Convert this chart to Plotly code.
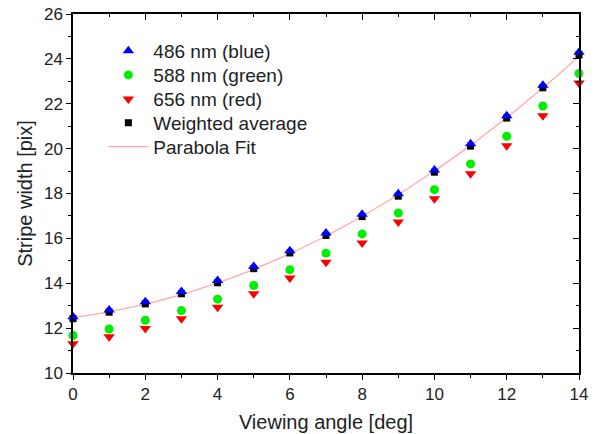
import numpy as np
import plotly.graph_objects as go

angle = list(range(0, 15))
blue_486 = [12.51, 12.81, 13.18, 13.63, 14.12, 14.75, 15.45, 16.24, 17.08, 17.99, 19.05, 20.22, 21.47, 22.83, 24.30]
green_588 = [11.67, 11.96, 12.35, 12.78, 13.29, 13.90, 14.60, 15.34, 16.20, 17.13, 18.17, 19.32, 20.55, 21.90, 23.35]
red_656 = [11.30, 11.62, 11.98, 12.42, 12.93, 13.53, 14.23, 14.94, 15.79, 16.73, 17.77, 18.88, 20.13, 21.47, 22.93]
weighted = [12.42, 12.71, 13.08, 13.53, 14.02, 14.65, 15.35, 16.13, 16.97, 17.88, 18.95, 20.11, 21.36, 22.71, 24.18]

x_ticks = [0, 2, 4, 6, 8, 10, 12, 14]
y_ticks = [10, 12, 14, 16, 18, 20, 22, 24, 26]

coef = np.polyfit(angle, weighted, 2)
xf = np.linspace(0, 14, 141)
yf = np.polyval(coef, xf)

FONT = "Liberation Sans, Arial, sans-serif"

fig = go.Figure()
fig.add_trace(go.Scatter(x=xf, y=yf, mode="lines", name="Parabola Fit", legend="legend5",
                         line=dict(color="#ffaaaa", width=1.3), cliponaxis=False))
fig.add_trace(go.Scatter(x=angle, y=weighted, mode="markers", name="Weighted average", legend="legend4",
                         marker=dict(symbol="square", color="black", size=7), cliponaxis=False))
fig.add_trace(go.Scatter(x=angle, y=green_588, mode="markers", name="588 nm (green)", legend="legend2",
                         marker=dict(symbol="circle", color="#00ee00", size=9), cliponaxis=False))
fig.add_trace(go.Scatter(x=angle, y=red_656, mode="markers", name="656 nm (red)", legend="legend3",
                         marker=dict(symbol="triangle-down", color="#ff0000", size=10), cliponaxis=False))
fig.add_trace(go.Scatter(x=angle, y=blue_486, mode="markers", name="486 nm (blue)", legend="legend",
                         marker=dict(symbol="triangle-up", color="#0000ff", size=10), cliponaxis=False))
# invisible trace for mirrored inside ticks on top/right
fig.add_trace(go.Scatter(x=[0], y=[10], xaxis="x2", yaxis="y2", mode="markers",
                         marker=dict(opacity=0), showlegend=False, hoverinfo="skip"))

axis_common = dict(showgrid=False, zeroline=False, linecolor="black", linewidth=1.5,
                   tickcolor="black", tickwidth=1.3, ticklen=5, automargin=False,
                   tickfont=dict(family=FONT, size=17, color="#222"))


def leg(y):
    return dict(x=0.06, y=y, xanchor="left", yanchor="middle", bgcolor="rgba(0,0,0,0)",
                font=dict(family=FONT, size=19, color="#222"), itemwidth=40,
                borderwidth=0)


fig.update_layout(
    width=595, height=434,
    margin=dict(l=73, r=16, t=14, b=61),
    paper_bgcolor="white", plot_bgcolor="white",
    font=dict(family=FONT, color="#222"),
    showlegend=True,
    legend=leg(0.897), legend2=leg(0.830), legend3=leg(0.763), legend4=leg(0.697), legend5=leg(0.630),
    xaxis=dict(range=[0, 14], tickvals=x_ticks, ticks="outside", showline=True, mirror=True,
               minor=dict(dtick=1, ticks="outside", ticklen=3, tickcolor="black", tickwidth=1.3),
               title=dict(text="Viewing angle [deg]", font=dict(family=FONT, size=20, color="#222"), standoff=12),
               **axis_common),
    yaxis=dict(range=[10, 26], tickvals=y_ticks, ticks="outside", showline=True, mirror=True,
               minor=dict(dtick=1, ticks="outside", ticklen=3, tickcolor="black", tickwidth=1.3),
               title=dict(text="Stripe width [pix]", font=dict(family=FONT, size=20, color="#222"), standoff=6),
               **axis_common),
    xaxis2=dict(range=[0, 14], overlaying="x", side="top", tickvals=x_ticks, ticks="inside",
                showticklabels=False, showline=False, showgrid=False, zeroline=False, automargin=False,
                tickcolor="black", tickwidth=1.3, ticklen=6,
                minor=dict(dtick=1, ticks="inside", ticklen=3, tickcolor="black", tickwidth=1.3)),
    yaxis2=dict(range=[10, 26], overlaying="y", side="right", tickvals=y_ticks, ticks="inside",
                showticklabels=False, showline=False, showgrid=False, zeroline=False, automargin=False,
                tickcolor="black", tickwidth=1.3, ticklen=6,
                minor=dict(dtick=1, ticks="inside", ticklen=3, tickcolor="black", tickwidth=1.3)),
)

fig.write_html("out.html", config={"displayModeBar": False},
               post_script="document.body.style.margin='0px';")
